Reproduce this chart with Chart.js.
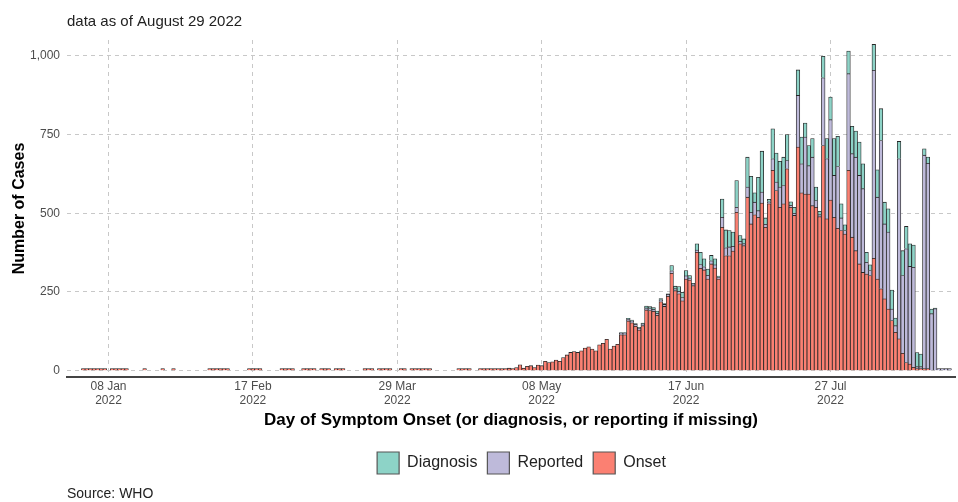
<!DOCTYPE html>
<html>
<head>
<meta charset="utf-8">
<script src="https://cdn.jsdelivr.net/npm/chart.js@4.4.1/dist/chart.umd.min.js"></script>
<style>
  body { margin: 0; background: #fff; }
  #wrap { width: 958px; height: 502px; }
</style>
</head>
<body>
<div id="wrap"><canvas id="myChart" width="958" height="502"></canvas></div>
<script>
// daily case counts, 28 Dec 2021 .. 30 Aug 2022
const firstDay = '2021-12-28';

const onset = [
  // Dec 28-31
  0, 0, 0, 0,
  // Jan
  1, 1, 1, 1, 1, 1, 1, 0, 1, 1, 1, 1, 1, 0, 0, 0, 0, 1, 0, 0, 0, 0, 1, 0, 0, 1, 0, 0, 0, 0, 0,
  // Feb
  0, 0, 0, 0, 1, 1, 1, 1, 1, 1, 0, 0, 0, 0, 0, 1, 1, 1, 1, 0, 0, 0, 0, 0, 1, 3, 1, 1,
  // Mar
  0, 0, 1, 2, 1, 1, 0, 1, 1, 1, 0, 1, 1, 1, 0, 0, 0, 0, 0, 1, 1, 1, 0, 1, 2, 1, 1, 0, 0, 1, 1,
  // Apr
  0, 1, 1, 2, 1, 1, 1, 0, 0, 0, 0, 0, 0, 0, 1, 1, 1, 1, 0, 0, 3, 3, 4, 3, 3, 4, 4, 5, 8, 5,
  // May
  10, 19, 8, 14, 16, 10, 18, 16, 30, 26, 28, 34, 30, 42, 50, 58, 61, 58, 63, 72, 76, 69, 63, 82, 87, 100, 69, 78, 84, 114, 114,
  // Jun
  158, 152, 141, 129, 143, 193, 191, 189, 176, 219, 204, 236, 309, 254, 244, 222, 291, 288, 270, 376, 325, 320, 291, 339, 326, 291, 455, 365, 365, 380,
  // Jul
  503, 403, 397, 551, 466, 495, 487, 532, 455, 530, 636, 572, 519, 530, 641, 519, 493, 710, 565, 561, 561, 524, 519, 489, 715, 482, 542, 487, 452, 445, 434,
  // Aug
  636, 424, 381, 339, 312, 307, 302, 357, 291, 260, 228, 196, 159, 122, 101, 55, 26, 21, 11, 5, 3, 3, 3, 0, 0, 0, 0, 0, 0, 0
];

const reported = [
  0, 0, 0, 0,
  0, 0, 0, 0, 0, 0, 0, 0, 0, 0, 0, 0, 0, 0, 0, 0, 0, 0, 0, 0, 0, 0, 0, 0, 0, 0, 0, 0, 0, 0, 0,
  0, 0, 0, 0, 0, 0, 0, 0, 0, 0, 0, 0, 0, 0, 0, 0, 0, 0, 0, 0, 0, 0, 0, 0, 0, 0, 0, 0,
  0, 0, 0, 0, 0, 0, 0, 0, 0, 0, 0, 0, 0, 0, 0, 0, 0, 0, 0, 0, 0, 0, 0, 0, 0, 0, 0, 0, 0, 0, 0,
  0, 0, 0, 0, 0, 0, 0, 0, 0, 0, 0, 0, 0, 0, 0, 0, 0, 0, 0, 0, 0, 0, 0, 0, 0, 0, 0, 0, 0, 0,
  0, 0, 0, 0, 0, 0, 0, 0, 0, 0, 0, 0, 0, 0, 0, 0, 0, 0, 0, 0, 0, 0, 0, 0, 0, 0, 0, 0, 0, 1, 1,
  2, 2, 2, 1, 1, 2, 2, 2, 2, 2, 2, 2, 8, 5, 8, 10, 10, 6, 1, 7, 12, 10, 12, 10, 10, 3, 32, 25, 28, 15,
  16, 8, 6, 32, 37, 40, 21, 35, 10, 4, 37, 27, 64, 58, 26, 5, 7, 164, 92, 181, 90, 154, 21, 3, 215, 191, 255, 133, 196, 40, 11,
  307, 265, 297, 281, 266, 37, 16, 597, 260, 471, 238, 244, 37, 21, 572, 247, 361, 310, 317, 5, 2, 678, 652, 181, 197, 2, 1, 2, 1, 0
];

const diagnosis = [
  0, 0, 0, 0,
  0, 0, 0, 0, 0, 0, 0, 0, 0, 0, 0, 0, 0, 0, 0, 0, 0, 0, 0, 0, 0, 0, 0, 0, 0, 0, 0, 0, 0, 0, 0,
  0, 0, 0, 0, 0, 0, 0, 0, 0, 0, 0, 0, 0, 0, 0, 0, 0, 0, 0, 0, 0, 0, 0, 0, 0, 0, 0, 0,
  0, 0, 0, 0, 0, 0, 0, 0, 0, 0, 0, 0, 0, 0, 0, 0, 0, 0, 0, 0, 0, 0, 0, 0, 0, 0, 0, 0, 0, 0, 0,
  0, 0, 0, 0, 0, 0, 0, 0, 0, 0, 0, 0, 0, 0, 0, 0, 0, 0, 0, 0, 0, 0, 0, 0, 0, 0, 0, 0, 0, 0,
  0, 0, 0, 0, 0, 0, 0, 0, 0, 0, 0, 0, 0, 0, 0, 0, 0, 0, 0, 0, 0, 0, 0, 0, 0, 0, 0, 0, 0, 1, 1,
  2, 2, 2, 2, 2, 6, 6, 5, 7, 4, 3, 2, 17, 8, 15, 17, 17, 8, 1, 20, 39, 25, 20, 17, 19, 3, 58, 57, 52, 45,
  85, 18, 15, 95, 114, 30, 106, 130, 20, 8, 95, 92, 82, 90, 83, 11, 19, 81, 85, 44, 64, 59, 43, 11, 68, 64, 72, 117, 96, 45, 18,
  72, 87, 83, 106, 79, 32, 18, 82, 87, 101, 69, 74, 60, 24, 55, 79, 71, 72, 71, 45, 40, 20, 20, 15, 2, 0, 0, 0, 0, 0
];

const tickDays = ['2022-01-08', '2022-02-17', '2022-03-29', '2022-05-08', '2022-06-17', '2022-07-27'];
const tickLabels = [['08 Jan', '2022'], ['17 Feb', '2022'], ['29 Mar', '2022'], ['08 May', '2022'], ['17 Jun', '2022'], ['27 Jul', '2022']];
const yTicks = [0, 250, 500, 750, 1000];

const subtitle = 'data as of August 29 2022';
const source = 'Source: WHO';

// one label per day
const start = new Date(firstDay + 'T00:00:00Z').getTime();
const days = onset.map((v, i) => new Date(start + i * 86400000).toISOString().slice(0, 10));

const FONT = '"Liberation Sans", Arial, Helvetica, sans-serif';
Chart.defaults.font.family = FONT;
Chart.defaults.color = '#4d4d4d';

function nz(arr) { return arr.map(v => v === 0 ? null : v); }
function isTick(i) { return tickDays.indexOf(days[i]) >= 0; }

const barStyle = {
  borderColor: '#262626',
  borderWidth: 0.8,
  barPercentage: 1.0,
  categoryPercentage: 1.0
};

const textPlugin = {
  id: 'extraText',
  afterLayout(chart) {
    // legend sits a bit right of the canvas centre in the original
    chart.legend.left += 44;
    chart.legend.right += 44;
  },
  afterDraw(chart) {
    const ctx = chart.ctx;
    const left = chart.chartArea.left;
    ctx.save();
    ctx.fillStyle = '#222';
    ctx.textBaseline = 'middle';
    ctx.font = '15px ' + FONT;
    ctx.fillText(subtitle, left, 22);
    ctx.font = '14px ' + FONT;
    ctx.fillText(source, left, 494);
    ctx.restore();
  }
};

const ctx = document.getElementById('myChart').getContext('2d');
const myChart = new Chart(ctx, {
  type: 'bar',
  data: {
    labels: days,
    datasets: [
      Object.assign({ label: 'Onset', data: nz(onset), backgroundColor: '#FB8072', minBarLength: 2 }, barStyle),
      Object.assign({ label: 'Reported', data: nz(reported), backgroundColor: '#BEBADA', minBarLength: 2 }, barStyle),
      Object.assign({ label: 'Diagnosis', data: nz(diagnosis), backgroundColor: '#8DD3C7' }, barStyle)
    ]
  },
  options: {
    responsive: false,
    animation: false,
    layout: { padding: { top: 40, right: 3, bottom: 18, left: 0 } },
    plugins: {
      tooltip: { enabled: false },
      title: { display: false },
      legend: {
        position: 'bottom',
        reverse: true,
        labels: {
          boxWidth: 22,
          boxHeight: 22,
          padding: 10,
          color: '#222',
          font: { size: 16 },
          generateLabels: function(chart) {
            const items = Chart.defaults.plugins.legend.labels.generateLabels(chart);
            items.forEach(it => { it.lineWidth = 1.2; it.strokeStyle = '#555'; });
            return items;
          }
        }
      }
    },
    scales: {
      x: {
        stacked: true,
        offset: true,
        afterFit: function(scale) { scale.height = 65; },
        grid: {
          offset: false,
          drawTicks: false,
          lineWidth: 1,
          color: c => isTick(c.index) ? '#c8c8c8' : 'rgba(0,0,0,0)'
        },
        border: { display: true, color: '#444', width: 2, dash: [4, 4] },
        ticks: {
          autoSkip: false,
          maxRotation: 0,
          minRotation: 0,
          padding: 2,
          color: '#4d4d4d',
          font: { size: 12 },
          callback: function(val, i) {
            const k = tickDays.indexOf(days[i]);
            return k >= 0 ? tickLabels[k] : '';
          }
        },
        title: {
          display: true,
          text: 'Day of Symptom Onset (or diagnosis, or reporting if missing)',
          color: '#000',
          font: { size: 17, weight: 'bold' },
          padding: { top: 4, bottom: 11 }
        }
      },
      y: {
        stacked: true,
        min: -20,
        max: 1050,
        afterFit: function(scale) { scale.width = 67; },
        afterBuildTicks: function(scale) { scale.ticks = yTicks.map(v => ({ value: v })); },
        grid: { drawTicks: false, color: '#c8c8c8', lineWidth: 1 },
        border: { display: false, dash: [4, 4] },
        ticks: {
          padding: 7,
          color: '#4d4d4d',
          font: { size: 12 },
          callback: v => v.toLocaleString('en-US')
        },
        title: {
          display: true,
          text: 'Number of Cases',
          color: '#000',
          font: { size: 16, weight: 'bold' },
          padding: { top: 10, bottom: 4 }
        }
      }
    }
  },
  plugins: [textPlugin]
});
</script>
</body>
</html>
